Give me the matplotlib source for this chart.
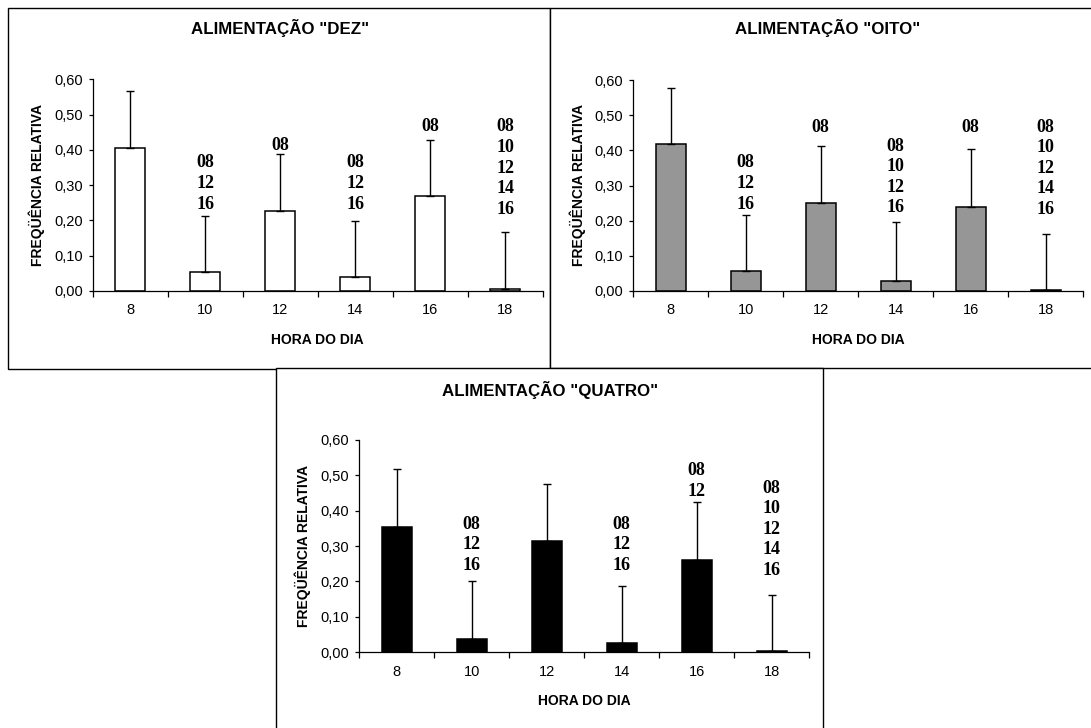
import matplotlib
matplotlib.use("Agg")
import matplotlib.pyplot as plt
from matplotlib.patches import Rectangle
from matplotlib.ticker import FuncFormatter

# ---- data -------------------------------------------------------------
hours = [8, 10, 12, 14, 16, 18]

freq_dez = [0.406, 0.053, 0.227, 0.039, 0.270, 0.007]
err_dez = [0.161, 0.160, 0.160, 0.159, 0.159, 0.160]
groups_dez = [[], ["08", "12", "16"], ["08"], ["08", "12", "16"], ["08"],
              ["08", "10", "12", "14", "16"]]

freq_oito = [0.417, 0.057, 0.249, 0.029, 0.240, 0.003]
err_oito = [0.161, 0.160, 0.164, 0.167, 0.165, 0.160]
groups_oito = [[], ["08", "12", "16"], ["08"], ["08", "10", "12", "16"], ["08"],
               ["08", "10", "12", "14", "16"]]

freq_quatro = [0.355, 0.038, 0.314, 0.026, 0.261, 0.004]
err_quatro = [0.162, 0.162, 0.162, 0.162, 0.162, 0.158]
groups_quatro = [[], ["08", "12", "16"], [], ["08", "12", "16"], ["08", "12"],
                 ["08", "10", "12", "14", "16"]]

titles = ['ALIMENTAÇÃO "DEZ"', 'ALIMENTAÇÃO "OITO"', 'ALIMENTAÇÃO "QUATRO"']
ylabel = "FREQÜÊNCIA RELATIVA"
xlabel = "HORA DO DIA"
yticks = [0.0, 0.1, 0.2, 0.3, 0.4, 0.5, 0.6]

# ---- layout (figure pixels) ------------------------------------------
W, H = 1091, 728
SANS = "Liberation Sans"
SERIF = "Liberation Serif"


def fx(px):
    return px / W


def fy(py):
    return 1 - py / H


fig = plt.figure(figsize=(W / 100, H / 100), dpi=100)
fig.patch.set_facecolor("white")

# chart frames
frames = [
    dict(x0=7.5, y0=7.5, x1=550, y1=368.5, z=0),
    dict(x0=550, y0=7.5, x1=1110, y1=367.5, z=0),
    dict(x0=275.5, y0=367.5, x1=822.5, y1=740, z=1),
]
for f in frames:
    fig.add_artist(Rectangle((fx(f["x0"]), fy(f["y1"])),
                             fx(f["x1"]) - fx(f["x0"]), fy(f["y0"]) - fy(f["y1"]),
                             transform=fig.transFigure, facecolor="white",
                             edgecolor="black", linewidth=1.0, zorder=f["z"]))

panels = [
    dict(freq=freq_dez, err=err_dez, groups=groups_dez, color="white",
         title=titles[0], axleft=92.7, axtop=79.3, axbottom=291.0,
         title_xy=(280, 28), ylab_x=37, xlab_y=340,
         label_y=[None, 0.363, 0.411, 0.363, 0.465, 0.465]),
    dict(freq=freq_oito, err=err_oito, groups=groups_oito, color="#969696",
         title=titles[1], axleft=633.3, axtop=80.0, axbottom=291.0,
         title_xy=(828, 28), ylab_x=578, xlab_y=340,
         label_y=[None, 0.364, 0.466, 0.412, 0.466, 0.466]),
    dict(freq=freq_quatro, err=err_quatro, groups=groups_quatro, color="black",
         title=titles[2], axleft=359.3, axtop=439.7, axbottom=652.3,
         title_xy=(550, 390), ylab_x=303, xlab_y=701,
         label_y=[None, 0.362, None, 0.362, 0.512, 0.463]),
]

AXW = 450.0
LINE_STEP = 14.8  # points between stacked group labels

for p in panels:
    ax = fig.add_axes([fx(p["axleft"]), fy(p["axbottom"]), AXW / W,
                       (p["axbottom"] - p["axtop"]) / H], zorder=2)
    ax.patch.set_alpha(0)
    pos = list(range(len(hours)))
    ax.bar(pos, p["freq"], width=0.4, color=p["color"], edgecolor="black",
           linewidth=1.1, zorder=2)
    ax.errorbar(pos, p["freq"], yerr=[[0] * len(hours), p["err"]], fmt="none",
                ecolor="black", elinewidth=1.0, capsize=3, capthick=1.0, zorder=3)

    ax.set_xlim(-0.5, len(hours) - 0.5)
    ax.set_ylim(0, 0.6)
    for s in ("top", "right"):
        ax.spines[s].set_visible(False)
    for s in ("left", "bottom"):
        ax.spines[s].set_linewidth(0.9)

    ax.set_yticks(yticks)
    ax.yaxis.set_major_formatter(FuncFormatter(lambda v, _: f"{v:.2f}".replace(".", ",")))
    ax.tick_params(axis="y", direction="out", length=3, width=0.9, pad=4.2,
                   labelsize=10.5)
    # boundary ticks between categories, labels at category centres
    ax.set_xticks([i - 0.5 for i in range(len(hours) + 1)])
    ax.set_xticklabels([])
    ax.set_xticks(pos, minor=True)
    ax.set_xticklabels([str(h) for h in hours], minor=True)
    ax.tick_params(axis="x", which="major", direction="out", length=4, width=0.9)
    ax.tick_params(axis="x", which="minor", length=0, pad=9, labelsize=10.5)
    for lab in ax.get_yticklabels() + ax.get_xticklabels(minor=True):
        lab.set_fontfamily(SANS)

    # stacked group labels
    for i, (grp, ly) in enumerate(zip(p["groups"], p["label_y"])):
        for k, g in enumerate(grp):
            ax.annotate(g, xy=(i, ly), xytext=(0, -k * LINE_STEP),
                        textcoords="offset points", ha="center", va="center",
                        fontfamily=SERIF, fontweight="bold", fontsize=13,
                        zorder=4)

    # titles
    tx, ty = p["title_xy"]
    fig.text(fx(tx), fy(ty), p["title"], ha="center", va="center",
             fontfamily=SANS, fontweight="bold", fontsize=12.2, zorder=3)
    fig.text(fx(p["ylab_x"]), fy((p["axtop"] + p["axbottom"]) / 2), ylabel,
             rotation=90, ha="center", va="center", fontfamily=SANS,
             fontweight="bold", fontsize=10, zorder=3)
    fig.text(fx(p["axleft"] + AXW / 2), fy(p["xlab_y"]), xlabel, ha="center",
             va="center", fontfamily=SANS, fontweight="bold", fontsize=10,
             zorder=3)

fig.savefig("out.png", dpi=100, facecolor="white")
